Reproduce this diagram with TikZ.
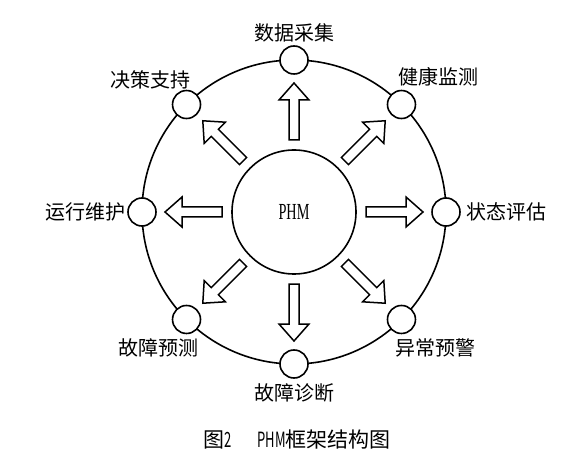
\documentclass[tikz,border=0pt]{standalone}
\usepackage{fontspec}
\setmainfont{Liberation Serif}
\newfontfamily\cjk{Noto Sans CJK SC}
\usepackage{graphicx}
\usetikzlibrary{calc, positioning}

% half-width latin, as in the caption font
\newcommand{\hw}[1]{\scalebox{0.62}[1]{#1}}
% hollow block arrow, pointing out of the hub at angle #1
\newcommand{\phmarrow}[1]{%
  \draw[bigarrow, shift={(phm.center)}, rotate=#1]
    (72pt,-5pt) -- (112pt,-5pt) -- (112pt,-15pt) -- (129pt,0pt)
    -- (112pt,15pt) -- (112pt,5pt) -- (72pt,5pt) -- cycle;}

\begin{document}
\begin{tikzpicture}[
  x=1pt, y=1pt,
  ring/.style={draw, line width=1.6pt},
  hub/.style={circle, draw, line width=1.6pt, fill=white, minimum size=124pt, inner sep=0pt, font=\fontsize{23}{24}\selectfont},
  dot/.style={circle, draw, line width=1.6pt, fill=white, minimum size=28pt, inner sep=0pt},
  lab/.style={inner sep=0pt, font=\cjk\fontsize{20}{24}\selectfont},
  bigarrow/.style={draw, line width=1.5pt, fill=white, line join=miter},
]
  \useasboundingbox (0,0) rectangle (580,466);

  \node[hub] (phm) at (294,254) {\hw{PHM}};
  \draw[ring] (phm.center) circle[radius=152pt];

  % stations on the ring
  \node[dot] (acq)    at ($(phm.center)+(90:152pt)$) {};
  \node[dot] (health) at ($(phm.center)+(45:152pt)$) {};
  \node[dot] (assess) at ($(phm.center)+(0:152pt)$) {};
  \node[dot] (alarm)  at ($(phm.center)+(-45:152pt)$) {};
  \node[dot] (diag)   at ($(phm.center)+(-90:152pt)$) {};
  \node[dot] (prog)   at ($(phm.center)+(-135:152pt)$) {};
  \node[dot] (maint)  at ($(phm.center)+(180:152pt)$) {};
  \node[dot] (decide) at ($(phm.center)+(135:152pt)$) {};

  % labels
  \node[lab, above=3pt of acq]   (acq-l)    {数据采集};
  \node[lab] (health-l) at (438,389) {健康监测};
  \node[lab, right=5pt of assess] (assess-l) {状态评估};
  \node[lab] (alarm-l)  at (435,118) {异常预警};
  \node[lab, below=5pt of diag]  (diag-l)   {故障诊断};
  \node[lab] (prog-l)   at (158,118) {故障预测};
  \node[lab, left=2pt of maint]  (maint-l)  {运行维护};
  \node[lab] (decide-l) at (150,386) {决策支持};

  % arrows out of the hub
  \phmarrow{0}
  \phmarrow{45}
  \phmarrow{90}
  \phmarrow{135}
  \phmarrow{180}
  \phmarrow{225}
  \phmarrow{270}
  \phmarrow{315}

  \node[lab, font=\cjk\fontsize{21}{24}\selectfont] (cap) at (297,26)
    {图\hw{2}\hspace{26pt}\hw{PHM}框架结构图};
\end{tikzpicture}
\end{document}
